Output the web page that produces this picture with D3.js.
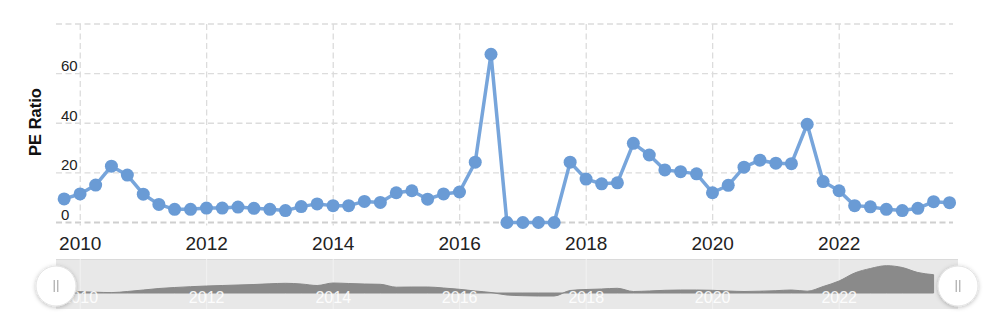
<!DOCTYPE html>
<html><head><meta charset="utf-8">
<script src="https://cdn.jsdelivr.net/npm/d3@7"></script>
<style>
html,body{margin:0;padding:0;background:#fff;}
svg{display:block;font-family:"Liberation Sans",Arial,sans-serif;}
</style></head>
<body><svg id="c" width="1000" height="324"></svg>
<script>
// ---- data ----
const dates = [
"2009-09-30","2009-12-31",
"2010-03-31","2010-06-30","2010-09-30","2010-12-31",
"2011-03-31","2011-06-30","2011-09-30","2011-12-31",
"2012-03-31","2012-06-30","2012-09-30","2012-12-31",
"2013-03-31","2013-06-30","2013-09-30","2013-12-31",
"2014-03-31","2014-06-30","2014-09-30","2014-12-31",
"2015-03-31","2015-06-30","2015-09-30","2015-12-31",
"2016-03-31","2016-06-30","2016-09-30","2016-12-31",
"2017-03-31","2017-06-30","2017-09-30","2017-12-31",
"2018-03-31","2018-06-30","2018-09-30","2018-12-31",
"2019-03-31","2019-06-30","2019-09-30","2019-12-31",
"2020-03-31","2020-06-30","2020-09-30","2020-12-31",
"2021-03-31","2021-06-30","2021-09-30","2021-12-31",
"2022-03-31","2022-06-30","2022-09-30","2022-12-31",
"2023-03-31","2023-06-30","2023-09-30"];
const peRatio = [9.5,11.5,15.1,22.7,19.1,11.4,7.3,5.3,5.3,5.8,5.8,6.2,5.7,5.3,4.8,6.4,7.5,6.8,6.8,8.5,8.1,12.0,12.8,9.4,11.5,12.3,24.3,67.8,0,0,0,0,24.3,17.5,15.6,16.0,31.9,27.2,21.2,20.5,19.6,12.0,15.0,22.3,25.1,23.9,23.7,39.6,16.5,12.8,6.8,6.3,5.3,4.8,5.7,8.4,8.0];
// navigator series (EPS-like), quarterly through 2023-06-30
const navValues = [0.15,0.13,0.08,0.04,0.15,0.30,0.45,0.55,0.63,0.70,0.75,0.80,0.85,0.92,0.97,0.90,0.75,1.00,0.95,0.90,0.87,0.58,0.60,0.60,0.50,0.37,0.20,0.05,-0.20,-0.27,-0.30,-0.30,0.25,0.35,0.40,0.47,0.15,0.20,0.27,0.30,0.30,0.27,0.20,0.15,0.18,0.23,0.30,0.18,0.65,1.20,2.00,2.45,2.73,2.55,2.05,1.83];
const yTicks = [0,20,40,60,80];
const yTickLabels = ["0","20","40","60",""];
const xTickYears = [2010,2012,2014,2016,2018,2020,2022];
const yTitle = "PE Ratio";

// ---- layout ----
const parse = d3.timeParse("%Y-%m-%d");
const P = {l:56, r:953, t:24, b:222.5};
const N = {l:56, r:958, t:259, b:309};
const svg = d3.select("#c");

const x = d3.scaleTime().domain([new Date(2009,7,14), new Date(2023,9,20)]).range([P.l,P.r]);
const y = d3.scaleLinear().domain([0,80]).range([P.b,P.t]);

const defs = svg.append("defs");
const f = defs.append("filter").attr("id","sh").attr("x","-50%").attr("y","-50%").attr("width","200%").attr("height","200%");
f.append("feDropShadow").attr("dx",0).attr("dy",1).attr("stdDeviation",2).attr("flood-color","#000").attr("flood-opacity",0.25);

// horizontal grid
svg.append("g").selectAll("line").data(yTicks).join("line")
  .attr("x1",P.l).attr("x2",P.r)
  .attr("y1",d=>y(d)).attr("y2",d=>y(d))
  .attr("stroke",d=>d===0?"#cfcfcf":"#dcdcdc").attr("stroke-width",d=>d===0?2:1.3)
  .attr("stroke-dasharray","6,3.5");

// vertical grid
const xTicks = xTickYears.map(yr=>new Date(yr,0,1));
svg.append("g").selectAll("line").data(xTicks).join("line")
  .attr("x1",d=>x(d)).attr("x2",d=>x(d))
  .attr("y1",P.t).attr("y2",P.b+3)
  .attr("stroke","#dcdcdc").attr("stroke-width",1.3)
  .attr("stroke-dasharray","6,3.5");

// y labels
svg.append("g").selectAll("text").data(yTicks).join("text")
  .attr("x",61).attr("y",d=>y(d)-2.5)
  .attr("font-size",15).attr("fill","#222")
  .text((d,i)=>yTickLabels[i]);

// x labels
svg.append("g").selectAll("text").data(xTicks).join("text")
  .attr("x",d=>x(d)).attr("y",250)
  .attr("text-anchor","middle").attr("font-size",19).attr("fill","#222")
  .text(d=>d3.timeFormat("%Y")(d));

// y title
svg.append("text").attr("transform","translate(41,122) rotate(-90)")
  .attr("text-anchor","middle").attr("font-size",16.5).attr("font-weight","bold").attr("fill","#111")
  .text(yTitle);

// series
const data = dates.map((d,i)=>({date:parse(d), v:peRatio[i]}));
svg.append("path").datum(data)
  .attr("fill","none").attr("stroke","#77a5db").attr("stroke-width",3.5).attr("stroke-linejoin","round")
  .attr("d",d3.line().x(d=>x(d.date)).y(d=>y(d.v)));
svg.append("g").selectAll("circle").data(data).join("circle")
  .attr("cx",d=>x(d.date)).attr("cy",d=>y(d.v)).attr("r",6.5)
  .attr("fill","#6a9bd5");

// ---- navigator ----
svg.append("rect").attr("x",N.l).attr("y",N.t).attr("width",N.r-N.l).attr("height",N.b-N.t)
  .attr("fill","#e8e8e8");
svg.append("line").attr("x1",N.l).attr("x2",N.r).attr("y1",N.t+0.5).attr("y2",N.t+0.5)
  .attr("stroke","#dadada").attr("stroke-width",1);
svg.append("g").selectAll("line").data(xTicks).join("line")
  .attr("x1",d=>x(d)).attr("x2",d=>x(d)).attr("y1",N.t).attr("y2",N.b)
  .attr("stroke","#f2f2f2").attr("stroke-width",1);

const ny = d3.scaleLinear().domain([-1.6,3.4]).range([N.b,N.t]);
const navData = navValues.map((v,i)=>({date:parse(dates[i]), v}));
svg.append("path").datum(navData)
  .attr("fill","#8a8a8a").attr("stroke","#888").attr("stroke-width",1)
  .attr("d",d3.area().curve(d3.curveMonotoneX).x(d=>x(d.date)).y0(ny(0)).y1(d=>ny(d.v)));

svg.append("g").selectAll("text").data(xTicks).join("text")
  .attr("x",d=>x(d)).attr("y",303)
  .attr("text-anchor","middle").attr("font-size",16).attr("fill","#fff").attr("fill-opacity",0.9)
  .text(d=>d3.timeFormat("%Y")(d));

// handles
const handles = svg.append("g").selectAll("g").data([N.l, N.r]).join("g")
  .attr("transform",d=>`translate(${d},286)`);
handles.append("circle").attr("r",20).attr("fill","#fff").attr("stroke","#e4e4e4").attr("filter","url(#sh)");
handles.append("line").attr("x1",-1.8).attr("x2",-1.8).attr("y1",-6).attr("y2",6).attr("stroke","#999").attr("stroke-width",1);
handles.append("line").attr("x1",1.8).attr("x2",1.8).attr("y1",-6).attr("y2",6).attr("stroke","#999").attr("stroke-width",1);
</script></body></html>
